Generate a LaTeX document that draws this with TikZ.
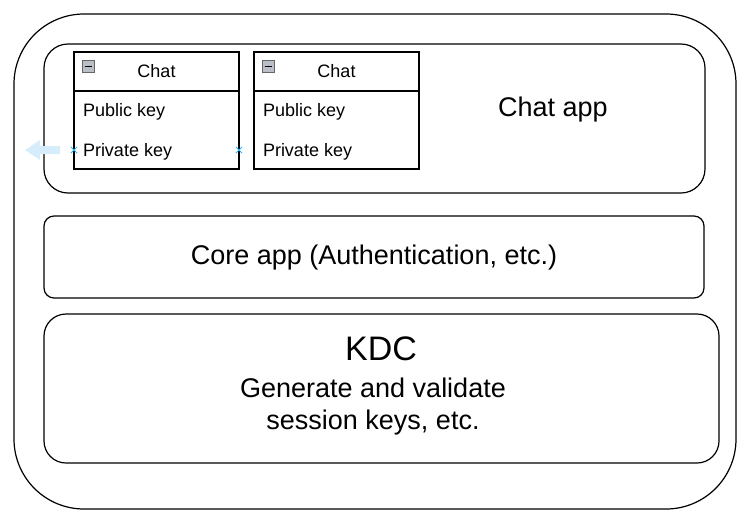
\documentclass[tikz,border=0pt]{standalone}
\usepackage{fontspec}
\setmainfont{Liberation Sans}
\usetikzlibrary{arrows.meta,positioning,calc}
\definecolor{hint}{HTML}{29B6F2}
\definecolor{hintpale}{HTML}{D6EEFC}
\definecolor{iconfill}{HTML}{B9BEC7}
\newcommand{\fsz}[2]{\fontsize{#1}{#2}\selectfont}

\begin{document}
\begin{tikzpicture}[x=1pt,y=-1pt,line width=1.2pt,>=Latex,
  every node/.style={inner sep=0pt,outer sep=0pt},
  layer/.style={draw,rounded corners=#1},
  chathead/.style={draw,minimum width=165pt,minimum height=39pt,font=\fsz{18}{21}},
  chatbody/.style={draw,minimum width=165pt,minimum height=78pt},
  field/.style={anchor=west,font=\fsz{18}{21}},
  big/.style={font=\fsz{27}{32},align=center}]
  \useasboundingbox (0,0) rectangle (752,523);
  \node[layer=70pt,minimum width=722pt,minimum height=495pt] (device) at (375,261.5) {};
  \node[layer=24pt,minimum width=661pt,minimum height=149pt] (chatapp) at (374.5,118.5) {};
  \node[layer=10pt,minimum width=660pt,minimum height=82pt] (coreapp) at (374,257) {};
  \node[layer=22pt,minimum width=675pt,minimum height=149pt] (kdc) at (381.5,388.5) {};
  \foreach \n/\x in {1/156.5,2/336.5}{
    \node[chathead] (head\n) at (\x,71.5) {\raisebox{-1pt}{Chat}};
    \node[chatbody,below=0pt of head\n] (body\n) {};
    \node[field] (pub\n) at ($(body\n.west)+(9,-18)$) {Public key};
    \node[field] (priv\n) at ($(body\n.west)+(9,21.5)$) {Private key};
    \draw[line width=0.8pt,draw=gray!80!black,fill=iconfill] ($(head\n.west)+(8,-11)$) rectangle ++(12,12);
    \draw[line width=1.5pt] ($(head\n.west)+(10.5,-5)$) -- ++(7,0);
  }
  \node[big] (chatlbl) at (553,109.5) {Chat app};
  \node[big] (corelbl) at ($(coreapp)+(0,0.5)$) {Core app (Authentication, etc.)};
  \node[font=\fsz{34}{40}] (kdclbl) at (381,349) {KDC};
  \node[big] (kdctxt) at (373,407) {Generate and validate\\session keys, etc.};
  \foreach \p in {body1.west,body1.east}{
    \draw[hint,line width=1pt] ($(\p)+(-3,17)$) -- ++(6,6) ($(\p)+(-3,23)$) -- ++(6,-6);
  }
  \fill[hintpale] ($(body1.west)+(-14,16)$) -- ++(-20,0) -- ++(0,-6) -- ++(-15,10)
    -- ++(15,10) -- ++(0,-6) -- ++(20,0) -- cycle;
\end{tikzpicture}
\end{document}
